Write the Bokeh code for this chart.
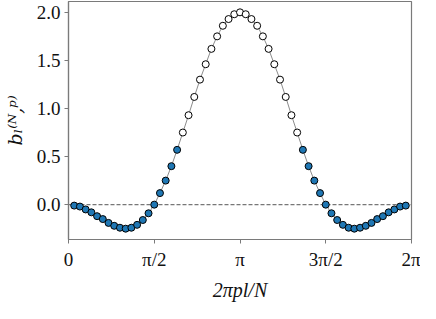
import math
from bokeh.plotting import figure
from bokeh.models import ColumnDataSource, Range1d, FixedTicker, Span
from bokeh.embed import file_html
from bokeh.resources import INLINE

# ---- data ----
N = 60
l_index = list(range(1, 60))
b_values = [-0.01, -0.02, -0.05, -0.08, -0.12, -0.15, -0.19, -0.22, -0.24, -0.25,
            -0.24, -0.21, -0.16, -0.09, 0.00, 0.12, 0.25, 0.40, 0.57, 0.75,
            0.93, 1.12, 1.30, 1.46, 1.62, 1.75, 1.86, 1.93, 1.98, 2.00,
            1.98, 1.93, 1.86, 1.75, 1.62, 1.46, 1.30, 1.12, 0.93, 0.75,
            0.57, 0.40, 0.25, 0.12, 0.00, -0.09, -0.16, -0.21, -0.24, -0.25,
            -0.24, -0.22, -0.19, -0.15, -0.12, -0.08, -0.05, -0.02, -0.01]
group = ["outer"] * 19 + ["inner"] * 21 + ["outer"] * 19
x_ticks = [0, math.pi / 2, math.pi, 3 * math.pi / 2, 2 * math.pi]
x_tick_labels = ["0", "π/2", "π", "3π/2", "2π"]
y_ticks = [0.0, 0.5, 1.0, 1.5, 2.0]
y_tick_labels = ["0.0", "0.5", "1.0", "1.5", "2.0"]

fill_map = {"outer": "#1f77b4", "inner": "#ffffff"}
xs = [2 * math.pi * l / N for l in l_index]
src = ColumnDataSource(dict(x=xs, y=b_values, fill=[fill_map[g] for g in group]))

FONT = "Liberation Serif"
FRAME = "#7a7a7a"

p = figure(width=420, height=303, x_range=Range1d(0, 2 * math.pi),
           y_range=Range1d(-0.3625, 2.1125), output_backend="svg",
           toolbar_location=None, min_border_left=58, min_border_right=9,
           min_border_top=1, min_border_bottom=48)
p.background_fill_color = "white"
p.border_fill_color = "white"
p.outline_line_color = FRAME
p.outline_line_width = 1.2
p.grid.visible = False

for ax in (p.xaxis, p.yaxis):
    ax.axis_line_color = FRAME
    ax.axis_line_width = 1.2
    ax.major_tick_line_color = FRAME
    ax.major_tick_in = 0
    ax.major_tick_out = 4
    ax.minor_tick_line_color = None
    ax.major_label_text_font = FONT
    ax.major_label_text_font_size = "19px"
    ax.major_label_text_color = "#111111"
    ax.axis_label_text_font = FONT
    ax.axis_label_text_font_size = "20px"
    ax.axis_label_text_font_style = "italic"
    ax.axis_label_text_color = "#111111"

p.xaxis.ticker = FixedTicker(ticks=x_ticks)
p.xaxis.major_label_overrides = {t: s for t, s in zip(x_ticks, x_tick_labels)}
p.yaxis.ticker = FixedTicker(ticks=y_ticks)
p.yaxis.major_label_overrides = {t: s for t, s in zip(y_ticks, y_tick_labels)}
p.xaxis.axis_label = "2πpl/N"
p.yaxis.axis_label = "bₗ⁽ᴺ,ᵖ⁾"
p.yaxis.axis_label_text_font = "DejaVu Serif"
p.yaxis.axis_label_text_font_size = "19px"
p.xaxis.major_label_standoff = 5
p.yaxis.major_label_standoff = 4
p.xaxis.axis_label_standoff = 6
p.yaxis.axis_label_standoff = 8

zero = Span(location=0, dimension="width", line_color="#777777",
            line_dash="4 2", line_width=1.2, level="underlay")
p.add_layout(zero)

p.line("x", "y", source=src, line_color="#8c8c8c", line_width=1)
p.scatter("x", "y", source=src, size=7, fill_color="fill",
          line_color="black", line_width=1)

open("out.html", "w").write(file_html(p, INLINE))
